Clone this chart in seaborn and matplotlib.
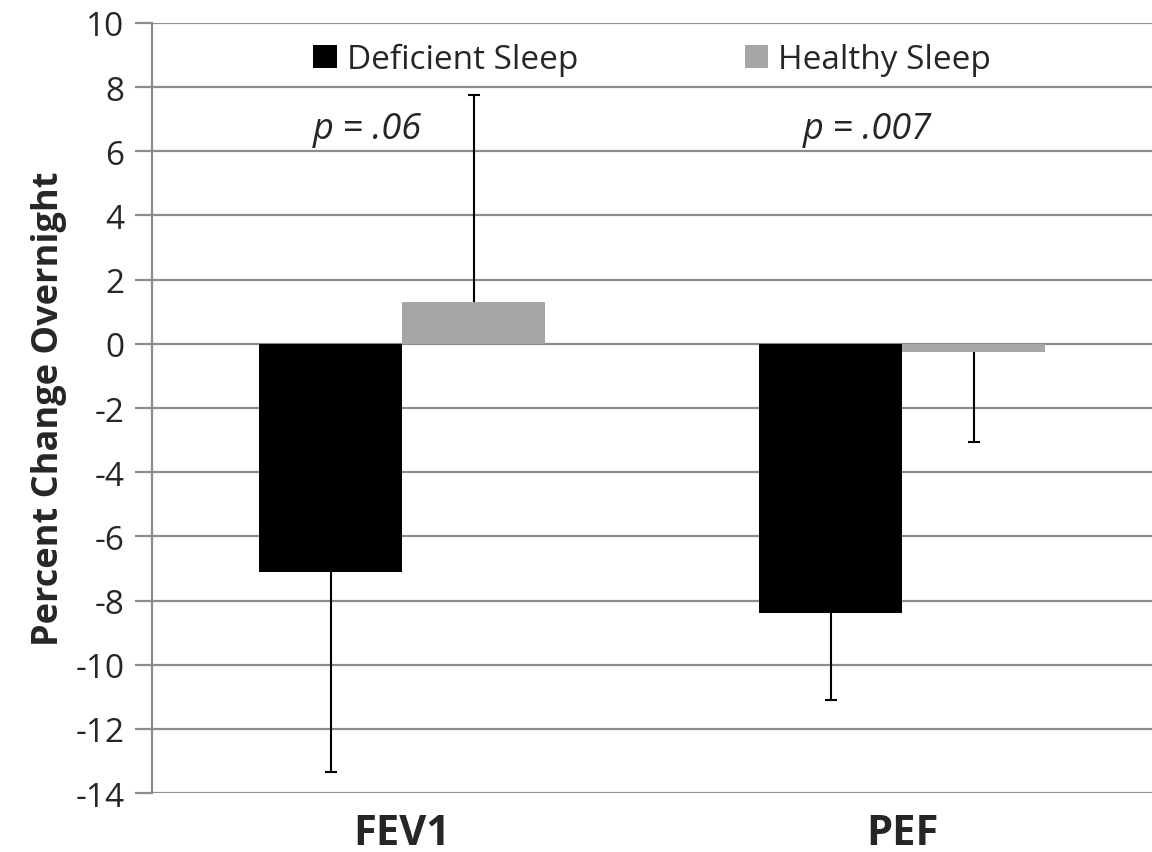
import matplotlib
matplotlib.use("Agg")
import matplotlib.pyplot as plt
import seaborn as sns
import numpy as np
import pandas as pd

# data
measures = ["FEV1", "PEF"]
groups = ["Deficient Sleep", "Healthy Sleep"]
deficient = [-7.1, -8.4]
healthy = [1.3, -0.27]
deficient_err = [6.25, 2.7]
healthy_err = [6.45, 2.78]
p_labels = ["p = .06", "p = .007"]

df = pd.DataFrame({
    "measure": measures * 2,
    "group": [groups[0]] * 2 + [groups[1]] * 2,
    "value": deficient + healthy,
})

sns.set_theme(style="white")
plt.rcParams['font.family'] = ['Open Sans', 'DejaVu Sans']
plt.rcParams['axes.unicode_minus'] = False

fig = plt.figure(figsize=(11.52, 8.53), dpi=100)
ax = fig.add_axes([0.132, 0.069, 0.868, 0.903])

sns.barplot(data=df, x="measure", y="value", hue="group", order=measures,
            hue_order=groups, palette=["#000000", "#a6a6a6"], width=0.572,
            gap=0, errorbar=None, ax=ax, zorder=3, linewidth=0)

# one-sided error bars, pointing away from zero, cap only at the far end
errs = {groups[0]: deficient_err, groups[1]: healthy_err}
vals = {groups[0]: deficient, groups[1]: healthy}
bar_containers = list(ax.containers)
for gi, cont in enumerate(bar_containers):
    g = groups[gi]
    for i, bar in enumerate(cont):
        xc = bar.get_x() + bar.get_width() / 2
        v = vals[g][i]
        e = errs[g][i]
        lo, hi = (e, 0) if v < 0 else (0, e)
        eb = ax.errorbar(xc, v, yerr=[[lo], [hi]], fmt="none", ecolor="black",
                         elinewidth=1.5, capsize=4.5, capthick=1.5, zorder=4)
        for cap in eb[1]:
            if abs(cap.get_ydata()[0] - v) < 1e-9:
                cap.set_visible(False)

ax.set_ylim(-14, 10)
ax.set_xlim(-0.5, 1.5)
ax.set_yticks(np.arange(-14, 11, 2))
ax.yaxis.grid(True, color="#8c8c8c", linewidth=1.6, zorder=0)
ax.set_axisbelow(True)
for s in ["top", "right", "bottom"]:
    ax.spines[s].set_visible(False)
ax.spines["left"].set_color("#8c8c8c")
ax.spines["left"].set_linewidth(1.6)
ax.tick_params(axis="y", which="major", left=True, length=12, width=1.6,
               color="#8c8c8c", labelsize=24, pad=8)
ax.tick_params(axis="x", bottom=False, labelsize=30, pad=8)
for t in ax.get_xticklabels():
    t.set_fontweight("bold")

ax.set_xlabel("")
ax.set_ylabel("Percent Change Overnight", fontsize=26, fontweight="bold", labelpad=6)

for i, lab in enumerate(p_labels):
    ax.text(i - 0.07, 6.7, lab, ha="center", va="center", fontsize=26,
            style="italic")

ax.legend(loc="upper center", bbox_to_anchor=(0.5, 1.0), ncol=2, frameon=False,
          fontsize=24, handlelength=0.7, handleheight=0.7, handletextpad=0.3,
          columnspacing=5.0, borderaxespad=0.2)

fig.savefig("out.png", dpi=100)
